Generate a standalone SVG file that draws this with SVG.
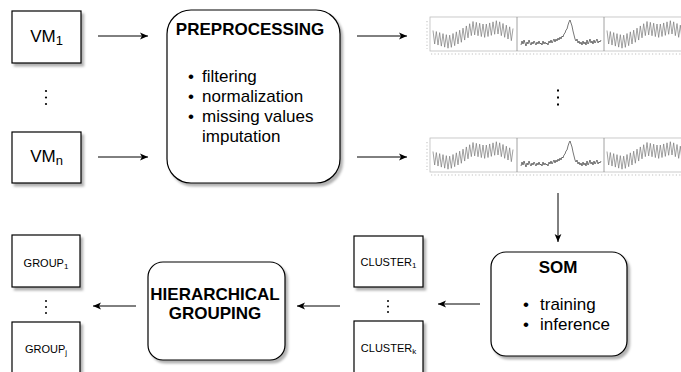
<svg xmlns="http://www.w3.org/2000/svg" xmlns:xlink="http://www.w3.org/1999/xlink" width="681" height="372" viewBox="0 0 681 372">
  <style>
    text { font-family: "Liberation Sans", Arial, Helvetica, sans-serif; fill: #000; }
    .box { fill: #fff; stroke: #000; stroke-width: 1.2; filter: url(#shadow); }
    .title { font-weight: bold; font-size: 17px; }
    .item { font-size: 17px; }
    .big { font-size: 17px; }
    .small { font-size: 11px; }
    .edge { fill: none; stroke: #000; stroke-width: 1; marker-end: url(#arrow); }
    .dot { fill: #000; }
    .frame { fill: none; stroke: #bdbdbd; stroke-width: 0.8; }
    .split { stroke: #8c8c8c; stroke-width: 0.8; }
    .trace { fill: none; stroke-width: 0.7; stroke-linejoin: round; }
    .periodic { stroke: #7a7a7a; }
    .spiky { stroke: #3c3c3c; }
    .ticks { stroke: #d6d6d6; stroke-width: 1.6; stroke-dasharray: 1.2 2.2; }
  </style>
  <defs>
    <filter id="shadow" x="-10%" y="-10%" width="130%" height="130%">
      <feDropShadow dx="2.5" dy="3" stdDeviation="0.8" flood-color="#000" flood-opacity="0.3"/>
    </filter>
    <marker id="arrow" markerUnits="userSpaceOnUse" viewBox="0 0 8 8" markerWidth="8" markerHeight="8" refX="8" refY="4" orient="auto">
      <path d="M0,0.6 L8,4 L0,7.4 L2,4 Z" fill="#000"/>
    </marker>
    <!-- periodic series, local panel coordinates -->
    <polyline id="wave" class="trace periodic" points="3,13.5 4.67,27.02 6.33,14.54 8,28.06 9.67,15.58 11.33,29.1 13,16.63 14.67,30.15 16.33,17.67 18,31.19 19.67,18.17 21.33,30.33 23,16.5 24.67,28.67 26.33,14.83 28,27 29.67,13.17 31.33,25.28 33,11.17 34.67,23.06 36.33,8.94 38,20.83 39.67,6.72 41.33,18.61 43,4.5 44.67,17.92 46.33,5.33 48,18.75 49.67,6.17 51.33,19.58 53,7 54.67,20.42 56.33,7.06 58,19.5 59.67,5.94 61.33,18.39 63,4.83 64.67,17.28 66.33,3.72 68,17 69.67,4.83 71.33,18.67 73,6.5 74.67,20.33 76.33,8.17 78,22 79.67,9.83 81.33,23.67 83,11.5"/>
    <!-- noisy series with a single peak -->
    <polyline id="peak" class="trace spiky" points="4,28 5,24 6,27 7,23 8,26 9,29 10,25 11,27 12,23 13,26 14,28 15,25 16,27 17,24 18,26 19,28 20,25 21,27 22,24 23,27 24,26 25,28 26,24 27,27 28,25 29,27 30,26 31,28 32,24 33,26 34,23 35,26 36,24 37,22 38,25 39,22 40,24 41,21 42,23 43,20 44,22 45,19 46,20 47,17 48,16 49,13 50,12 51,8 52,5 53,3 54,6 55,9 56,14 57,18 58,22 59,24 60,22 61,26 62,24 63,27 64,25 65,28 66,24 67,27 68,25 69,28 70,23 71,27 72,25 73,22 74,26 75,24 76,27 77,23 78,26 79,24 80,22 81,26 82,24 83,25 84,23"/>
    <g id="strip">
      <rect class="frame" x="0" y="0" width="270" height="34"/>
      <line class="split" x1="87" y1="0" x2="87" y2="34"/>
      <line class="split" x1="174" y1="0" x2="174" y2="34"/>
      <line class="ticks" x1="1" y1="37" x2="270" y2="37"/>
      <line class="ticks" x1="-3" y1="4" x2="-3" y2="32"/>
      <use xlink:href="#wave"/>
      <use xlink:href="#peak" x="87"/>
      <use xlink:href="#wave" x="174"/>
    </g>
  </defs>

  <!-- connectors -->
  <g id="connectors">
    <line class="edge" x1="98" y1="36" x2="148" y2="36"/>
    <line class="edge" x1="98" y1="157" x2="148" y2="157"/>
    <line class="edge" x1="357" y1="36" x2="407" y2="36"/>
    <line class="edge" x1="357" y1="157" x2="407" y2="157"/>
    <line class="edge" x1="558" y1="193" x2="558" y2="242"/>
    <line class="edge" x1="480" y1="304" x2="438" y2="304"/>
    <line class="edge" x1="340" y1="306" x2="297" y2="306"/>
    <line class="edge" x1="136" y1="306" x2="93" y2="306"/>
  </g>

  <!-- input machines -->
  <g id="vm1">
    <rect class="box" x="12" y="11" width="69" height="52"/>
    <text class="big" x="46.5" y="42" text-anchor="middle">VM<tspan font-size="13" dy="3">1</tspan></text>
  </g>
  <g id="vm-dots">
    <circle class="dot" cx="46" cy="91" r="1.1"/>
    <circle class="dot" cx="46" cy="97.5" r="1.1"/>
    <circle class="dot" cx="46" cy="104" r="1.1"/>
  </g>
  <g id="vmn">
    <rect class="box" x="12" y="132" width="69" height="51"/>
    <text class="big" x="46.5" y="162" text-anchor="middle">VM<tspan font-size="13" dy="3">n</tspan></text>
  </g>

  <!-- preprocessing step -->
  <g id="preprocessing">
    <rect class="box" x="167" y="10" width="173" height="173" rx="24" ry="24"/>
    <text class="title" x="250" y="35" text-anchor="middle" font-size="18">PREPROCESSING</text>
    <text class="item" x="188" y="82">•</text>
    <text class="item" x="202" y="82">filtering</text>
    <text class="item" x="188" y="102">•</text>
    <text class="item" x="202" y="102">normalization</text>
    <text class="item" x="188" y="122">•</text>
    <text class="item" x="202" y="122">missing values</text>
    <text class="item" x="202" y="142">imputation</text>
  </g>

  <!-- time series -->
  <g id="series-1">
    <use xlink:href="#strip" x="430" y="17"/>
  </g>
  <g id="series-dots">
    <rect class="dot" x="557" y="89.5" width="2" height="2"/>
    <rect class="dot" x="557" y="96.5" width="2" height="2"/>
    <rect class="dot" x="557" y="103.5" width="2" height="2"/>
  </g>
  <g id="series-n">
    <use xlink:href="#strip" x="430" y="138"/>
  </g>

  <!-- self-organizing map -->
  <g id="som">
    <rect class="box" x="491" y="252" width="136" height="104" rx="15" ry="15"/>
    <text class="title" x="558" y="273" text-anchor="middle">SOM</text>
    <text class="item" x="523" y="310">•</text>
    <text class="item" x="540" y="310">training</text>
    <text class="item" x="523" y="330">•</text>
    <text class="item" x="540" y="330">inference</text>
  </g>

  <!-- clusters -->
  <g id="cluster1">
    <rect class="box" x="354" y="236" width="69" height="51"/>
    <text class="small" x="388.5" y="266" text-anchor="middle">CLUSTER<tspan font-size="8" dy="2">1</tspan></text>
  </g>
  <g id="cluster-dots">
    <circle class="dot" cx="388" cy="301" r="1"/>
    <circle class="dot" cx="388" cy="306.5" r="1"/>
    <circle class="dot" cx="388" cy="312" r="1"/>
  </g>
  <g id="clusterk">
    <rect class="box" x="354" y="321" width="69" height="53"/>
    <text class="small" x="388.5" y="352" text-anchor="middle">CLUSTER<tspan font-size="8" dy="2">k</tspan></text>
  </g>

  <!-- hierarchical grouping -->
  <g id="hierarchical">
    <rect class="box" x="148" y="262" width="137" height="98" rx="15" ry="15"/>
    <text class="title" x="215" y="300" text-anchor="middle">HIERARCHICAL</text>
    <text class="title" x="215" y="319" text-anchor="middle">GROUPING</text>
  </g>

  <!-- groups -->
  <g id="group1">
    <rect class="box" x="12" y="235" width="68" height="52"/>
    <text class="small" x="46" y="267" text-anchor="middle">GROUP<tspan font-size="8" dy="2">1</tspan></text>
  </g>
  <g id="group-dots">
    <circle class="dot" cx="46" cy="301" r="1"/>
    <circle class="dot" cx="46" cy="307" r="1"/>
    <circle class="dot" cx="46" cy="313" r="1"/>
  </g>
  <g id="groupj">
    <rect class="box" x="12" y="322" width="68" height="53"/>
    <text class="small" x="46" y="353" text-anchor="middle">GROUP<tspan font-size="8" dy="2">j</tspan></text>
  </g>
</svg>
